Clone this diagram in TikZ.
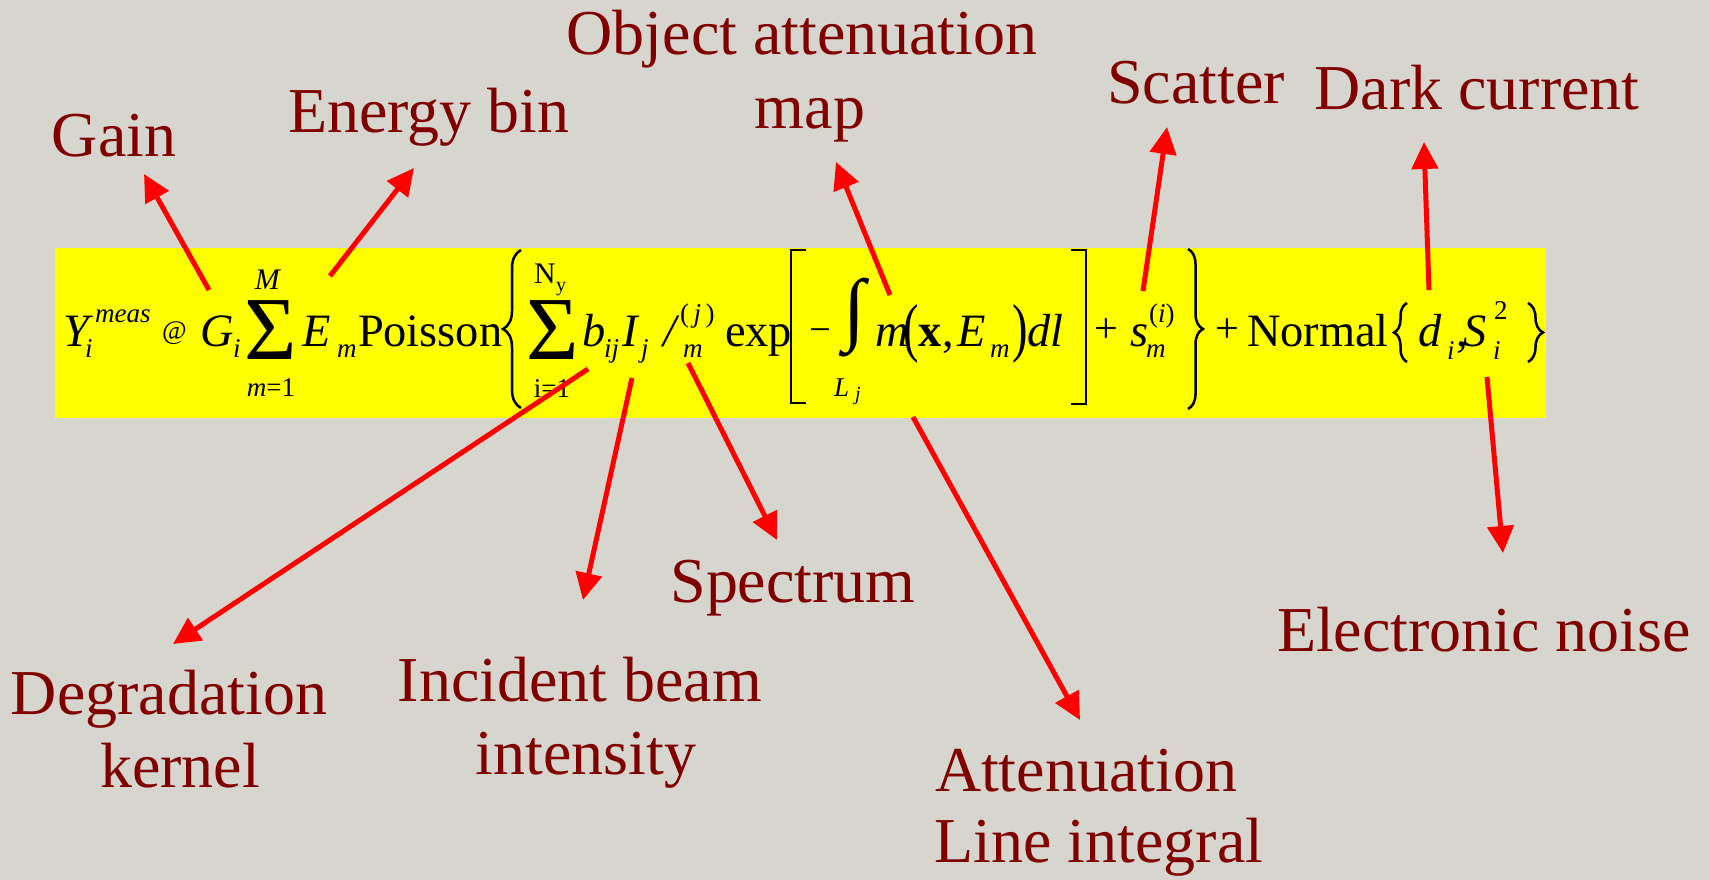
\documentclass[tikz,border=0pt]{standalone}
\usepackage{fontspec}
\setmainfont{Liberation Serif}
\usetikzlibrary{arrows.meta,decorations.pathreplacing}
\definecolor{bgcol}{HTML}{D6D5CE}
\definecolor{labred}{HTML}{800000}
\definecolor{hilite}{HTML}{FFFF00}
\newcommand\fs[1]{\fontsize{#1}{#1}\selectfont}
\tikzset{
  eq/.style={inner sep=0pt, outer sep=0pt, anchor=base west, font=\fs{13.2}},
  sc/.style={inner sep=0pt, outer sep=0pt, anchor=base west, font=\fs{7.7}},
  sig/.style={inner sep=0pt, outer sep=0pt, anchor=base, font=\fs{25.6}},
  lab/.style={inner sep=0pt, outer sep=0pt, anchor=base, text=labred, font=\fs{18.2}},
  arr/.style={draw=red, line width=0.5mm, -{Triangle[length=2.7mm,width=2.6mm]}},
  brk/.style={draw=black, line width=0.25mm},
  lbrace/.style={brk, decorate, decoration={brace, amplitude=#1}},
}
\begin{document}
\begin{tikzpicture}[x=0.1mm, y=-0.1mm]
\fill[bgcol] (0,0) rectangle (1710,880);
\useasboundingbox (0,0) rectangle (1710,880);
\fill[hilite] (55,248) rectangle (1546,418);

% equation
\node[eq] (Y) at (63,347) {\textit{Y}};
\node[sc] (Ysup) at (95,323) {\textit{meas}};
\node[sc] (Ysub) at (85,358) {\textit{i}};
\node[eq,font=\fs{7.6}] (approx) at (162,340) {@};
\node[eq] (G) at (200,347) {\textit{G}};
\node[sc] (Gsub) at (233,358) {\textit{i}};
\node[sig] (sumA) at (271,360) {Σ};
\node[sc,anchor=base,font=\fs{8.5}] (sumAtop) at (268,290) {\textit{M}};
\node[sc,anchor=base] (sumAbot) at (271,397) {\textit{m}=1};
\node[eq] (E) at (302,347) {\textit{E}};
\node[sc] (Esub) at (337,358) {\textit{m}};
\node[eq] (poisson) at (358,347) {Poisson};
\draw[lbrace=1.8mm] (521,408) -- (521,250);
\node[sc,anchor=base,font=\fs{8.5}] (Ntop) at (545,284) {N};
\node[sc,font=\fs{5.7}] (Nsub) at (556,292) {y};
\node[sig] (sumB) at (553,360) {Σ};
\node[sc,anchor=base] (sumBbot) at (552,398) {i=1};
\node[eq] (b) at (582,347) {\textit{b}};
\node[sc] (bsub) at (604,358) {\textit{ij}};
\node[eq] (I) at (622,347) {\textit{I}};
\node[sc] (Isub) at (641,358) {\textit{j}};
\node[eq] (lam) at (663,347) {\textit{/}};
\node[sc] (lamsup) at (680,323) {(\,\textit{j}\,)};
\node[sc] (lamsub) at (683,358) {\textit{m}};
\node[eq] (exp) at (725,347) {exp};
\draw[brk] (806,250) -- (791,250) -- (791,403) -- (806,403);
\node[sc,font=\fs{11}] (minus) at (809,343) {−};
\node[eq,font=\fs{22.9}] (int) at (843,336) {∫};
\node[sc] (L) at (834,397) {\textit{L}};
\node[sc,font=\fs{5.7}] (Lsub) at (855,401) {\textit{j}};
\node[eq] (mu) at (875,347) {\textit{m}};
\node[eq] (lp) at (903,350) {\scalebox{1}[1.4]{(}};
\node[eq] (xv) at (918,347) {\textbf{x}};
\node[eq] (commaA) at (942,347) {,};
\node[eq] (E2) at (957,347) {\textit{E}};
\node[sc] (E2sub) at (990,358) {\textit{m}};
\node[eq] (rp) at (1012,350) {\scalebox{1}[1.4]{)}};
\node[eq] (dl) at (1027,347) {\textit{dl}};
\draw[brk] (1071,250) -- (1086,250) -- (1086,404) -- (1071,404);
\node[eq,font=\fs{12}] (plusA) at (1094,343) {+};
\node[eq] (s) at (1130,347) {\textit{s}};
\node[sc] (ssup) at (1149,323) {(\textit{i})};
\node[sc] (ssub) at (1146,358) {\textit{m}};
\draw[lbrace=1.5mm] (1188,249) -- (1188,409);
\node[eq,font=\fs{12}] (plusB) at (1215,343) {+};
\node[eq] (normal) at (1247,347) {Normal};
\draw[lbrace=1.3mm] (1407,362) -- (1407,303);
\node[eq] (d) at (1418,347) {\textit{d}};
\node[sc] (dsub) at (1447,360) {\textit{i}};
\node[eq] (commaB) at (1456,347) {,};
\node[eq] (S) at (1463,347) {\textit{S}};
\node[sc] (Ssup) at (1494,320) {2};
\node[sc] (Ssub) at (1493,360) {\textit{i}};
\draw[lbrace=1.5mm] (1528,303) -- (1528,362);

% labels
\node[lab] (gain) at (114,157) {Gain};
\node[lab] (energy) at (429,133) {Energy bin};
\node[lab] (objA) at (802,55) {Object attenuation};
\node[lab] (objB) at (810,129) {map};
\node[lab] (scatter) at (1196,104) {Scatter};
\node[lab] (dark) at (1477,110) {Dark current};
\node[lab] (spectrum) at (793,602) {Spectrum};
\node[lab] (noise) at (1484,652) {Electronic noise};
\node[lab] (degrA) at (169,714) {Degradation};
\node[lab] (degrB) at (180,787) {kernel};
\node[lab] (incA) at (580,701) {Incident beam};
\node[lab] (incB) at (586,774) {intensity};
\node[lab] (attA) at (1086,791) {Attenuation};
\node[lab] (attB) at (1099,862) {Line integral};

% arrow ends
\coordinate (gainS) at (209,290);   \coordinate (gainT) at (144,174);
\coordinate (enS) at (330,276);     \coordinate (enT) at (414,168);
\coordinate (objS) at (890,295);    \coordinate (objT) at (836,162);
\coordinate (scS) at (1143,291);    \coordinate (scT) at (1167,127);
\coordinate (dkS) at (1429,290);    \coordinate (dkT) at (1424,142);
\coordinate (noS) at (1487,377);    \coordinate (noT) at (1503,553);
\coordinate (dgS) at (588,369);     \coordinate (dgT) at (173,644);
\coordinate (inS) at (632,378);     \coordinate (inT) at (583,600);
\coordinate (spS) at (688,363);     \coordinate (spT) at (777,540);
\coordinate (atS) at (913,417);     \coordinate (atT) at (1080,720);

\draw[arr] (gainS) -- (gainT);
\draw[arr] (enS) -- (enT);
\draw[arr] (objS) -- (objT);
\draw[arr] (scS) -- (scT);
\draw[arr] (dkS) -- (dkT);
\draw[arr] (noS) -- (noT);
\draw[arr] (dgS) -- (dgT);
\draw[arr] (inS) -- (inT);
\draw[arr] (spS) -- (spT);
\draw[arr] (atS) -- (atT);
\end{tikzpicture}
\end{document}
